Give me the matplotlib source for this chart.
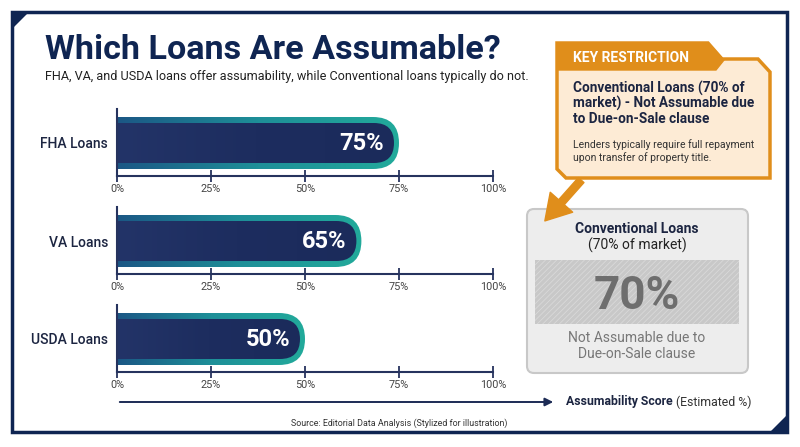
import matplotlib
matplotlib.use("Agg")
import matplotlib.pyplot as plt
import numpy as np
from matplotlib.colors import LinearSegmentedColormap
from matplotlib.patches import FancyBboxPatch, Polygon, Rectangle, FancyArrowPatch

plt.rcParams['font.family'] = ['Roboto', 'DejaVu Sans']

categories = ['FHA Loans', 'VA Loans', 'USDA Loans']
scores = [75, 65, 50]
ticks = [0, 25, 50, 75, 100]
tick_labels = ['0%', '25%', '50%', '75%', '100%']
conv_share = 70

NAVY = '#0f2552'
TEXT = '#1c2541'
ORANGE = '#e08e1b'

W, H = 800, 447
fig = plt.figure(figsize=(8, 4.47), dpi=100)

# background layer in pixel units
bg = fig.add_axes([0, 0, 1, 1])
bg.set_xlim(0, W)
bg.set_ylim(H, 0)
bg.axis('off')


def lines(x, y0, step, rows, **kw):
    # one text per line so every baseline sits where we want it
    for i, row in enumerate(rows):
        bg.text(x, y0 + i * step, row, va='baseline', **kw)


# frame with corner triangles
bg.add_patch(Rectangle((12, 12), 775, 420, fill=False, ec=NAVY, lw=2.5))
bg.add_patch(Polygon([(12, 12), (28, 12), (12, 28)], closed=True, fc=NAVY, ec=NAVY))
bg.add_patch(Polygon([(787, 432), (787, 416), (771, 432)], closed=True, fc=NAVY, ec=NAVY))

bg.text(45, 59, 'Which Loans Are Assumable?', fontsize=24.6, fontweight='bold',
        color=NAVY, va='baseline')
bg.text(45, 80, 'FHA, VA, and USDA loans offer assumability, while Conventional loans typically do not.',
        fontsize=9.1, color='#222222', va='baseline')

# bar panels
outer_cmap = LinearSegmentedColormap.from_list('outer', ['#1b5785', '#1e8f98', '#22aa9b'])
inner_cmap = LinearSegmentedColormap.from_list('inner', ['#233468', '#1d2d5f', '#1b2b5b'])
axis_lines = [176, 274, 372]
px_per_unit = 376 / 100

for cat, val, yl in zip(categories, scores, axis_lines):
    ax = fig.add_axes([117 / W, 1 - yl / H, 376 / W, 67 / H])
    ax.set_xlim(0, 100)
    ax.set_ylim(0, 67)
    ax.patch.set_alpha(0)

    oy, oh = 7, 52
    r = (oh / 2) / px_per_unit
    outer = FancyBboxPatch((-20, oy), val + 20, oh,
                           boxstyle=f'round,pad=0,rounding_size={r}',
                           mutation_aspect=px_per_unit, fc='none', ec='none')
    ax.add_patch(outer)
    grad = np.linspace(0, 1, 256).reshape(1, -1)
    im = ax.imshow(grad, extent=(0, val, oy, oy + oh), cmap=outer_cmap,
                   aspect='auto', zorder=1)
    im.set_clip_path(outer)

    iy, ih = 13, 40
    ri = (ih / 2) / px_per_unit
    inner_end = val - 5 / px_per_unit
    inner = FancyBboxPatch((-20, iy), inner_end + 20, ih,
                           boxstyle=f'round,pad=0,rounding_size={ri}',
                           mutation_aspect=px_per_unit, fc='none', ec='none')
    ax.add_patch(inner)
    im2 = ax.imshow(grad, extent=(0, inner_end, iy, iy + ih), cmap=inner_cmap,
                    aspect='auto', zorder=2)
    im2.set_clip_path(inner)

    ax.set_xlim(0, 100)
    ax.set_ylim(0, 67)
    ax.text(val - 4, oy + oh / 2, f'{val}%', color='white', fontsize=17,
            fontweight='bold', ha='right', va='center', zorder=3)

    for s in ['top', 'right']:
        ax.spines[s].set_visible(False)
    for s in ['left', 'bottom']:
        ax.spines[s].set_color('#26335e')
        ax.spines[s].set_linewidth(1.5)
    ax.set_xticks(ticks)
    ax.set_xticklabels(tick_labels)
    ax.tick_params(axis='x', direction='inout', length=8, width=1.3, color='#26335e',
                   labelsize=7.8, labelcolor='#444444', pad=2)
    ax.set_yticks([oy + oh / 2])
    ax.set_yticklabels([cat])
    ax.tick_params(axis='y', length=0, pad=6.5, labelsize=10, labelcolor=TEXT)
    for t in ax.get_yticklabels():
        t.set_fontweight('medium')

# axis title arrow
bg.annotate('', xy=(556, 402), xytext=(117, 402),
            arrowprops=dict(arrowstyle='-|>', color='#1c2b55', lw=1.4, mutation_scale=12))
t1 = bg.text(566, 402, 'Assumability Score', fontsize=8.8, fontweight='bold',
             color=TEXT, va='center')
fig.canvas.draw()
bb = t1.get_window_extent()
bg.text(566 + bb.width + 3, 402, '(Estimated %)', fontsize=8.8, color='#333333', va='center')
bg.text(507, 423, 'Source: Editorial Data Analysis (Stylized for illustration)',
        fontsize=6.4, color='#333333', ha='right', va='center')

# key restriction callout
bg.add_patch(Polygon([(557, 43), (708, 43), (722, 59), (758, 59), (770, 72),
                      (770, 178), (566, 178), (557, 169)], closed=True,
                     fc='#fdebd5', ec=ORANGE, lw=2.5, zorder=2))
bg.add_patch(Polygon([(557, 43), (708, 43), (724, 60), (716, 70), (557, 70)],
                     closed=True, fc=ORANGE, ec=ORANGE, lw=1, zorder=3))
bg.text(573, 62, 'KEY RESTRICTION', fontsize=10, fontweight='bold', color='white',
        va='baseline', zorder=4)
lines(573, 93, 15, [f'Conventional Loans ({conv_share}% of', 'market) - Not Assumable due',
                    'to Due-on-Sale clause'],
      fontsize=9.8, fontweight='bold', color=TEXT, zorder=4)
lines(573, 148, 13, ['Lenders typically require full repayment', 'upon transfer of property title.'],
      fontsize=7.45, color='#333333', zorder=4)

bg.add_patch(FancyArrowPatch((583, 178), (543, 223),
                             arrowstyle='simple,head_length=1.0,head_width=1.2,tail_width=0.3',
                             mutation_scale=18, fc=ORANGE, ec=ORANGE, zorder=5))

# conventional loans card
bg.add_patch(FancyBboxPatch((527, 209), 221, 164, boxstyle='round,pad=0,rounding_size=7',
                            fc='#ededed', ec='#c8c8c8', lw=1.5, zorder=1))
plt.rcParams['hatch.linewidth'] = 0.6
bg.add_patch(Rectangle((535, 260), 204, 64, fc='#c8c8c8', ec='#d9d9d9', hatch='//////',
                       lw=0, zorder=2))
bg.text(637, 233, 'Conventional Loans', fontsize=10, fontweight='bold', color=TEXT,
        ha='center', va='baseline', zorder=3)
bg.text(637, 250, f'({conv_share}% of market)', fontsize=10, color='#222222',
        ha='center', va='baseline', zorder=3)
bg.text(637, 309, f'{conv_share}%', fontsize=33, fontweight='bold', color='#6e6e6e',
        ha='center', va='baseline', zorder=3)
lines(637, 342, 16, ['Not Assumable due to', 'Due-on-Sale clause'],
      fontsize=10, color='#777777', ha='center', zorder=3)

fig.savefig('out.png', dpi=100)
